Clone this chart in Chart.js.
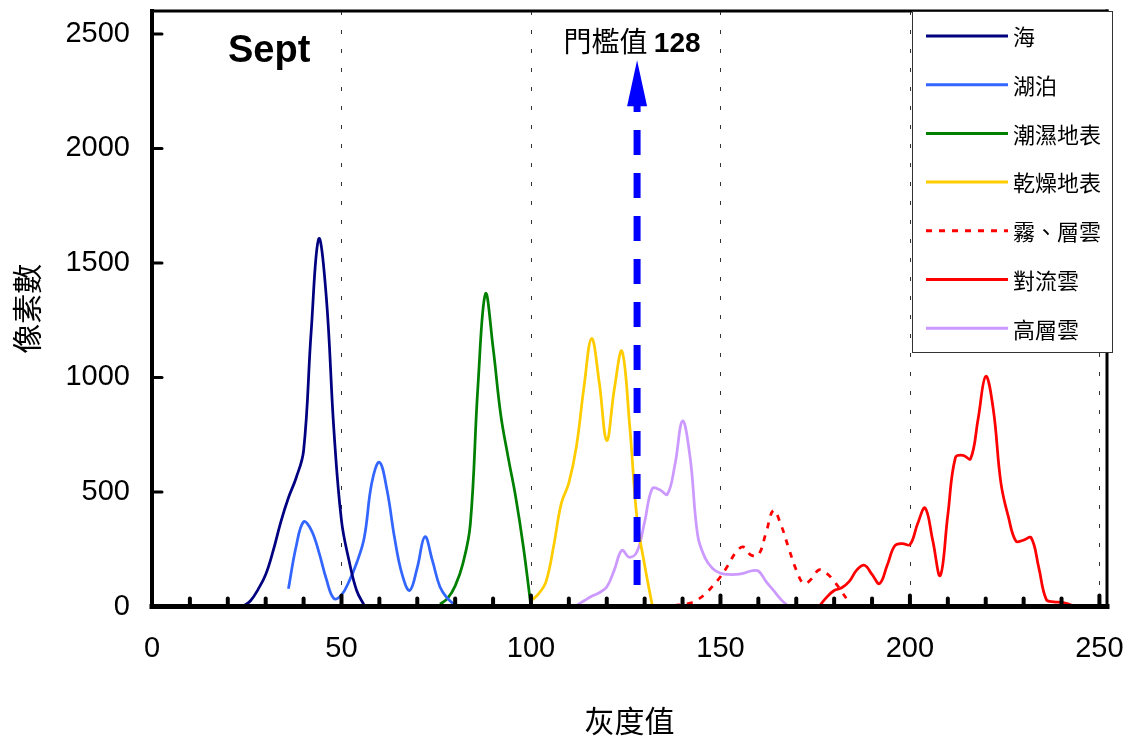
<!DOCTYPE html>
<html>
<head>
<meta charset="utf-8">
<script src="https://cdn.jsdelivr.net/npm/chart.js@4/dist/chart.umd.min.js"></script>
<style>
  html, body { margin: 0; padding: 0; background: #fff; }
  canvas { display: block; }
</style>
</head>
<body>
<canvas id="histogram" width="1130" height="740"></canvas>
<script>
// legend names, in drawing order
const seriesNames = ['海', '湖泊', '潮濕地表', '乾燥地表', '霧、層雲', '對流雲', '高層雲'];

// gray level -> pixel count, one pair of arrays per surface type
const seaGray = [24, 26, 28, 30, 32, 34, 36, 38, 40, 42, 44, 46, 48, 50, 52, 54, 56];
const seaCount = [0, 25, 75, 140, 245, 370, 475, 560, 680, 1200, 1605, 1350, 770, 375, 200, 70, 5];

const lakeGray = [36, 38, 40, 42, 44, 46, 48, 50, 52, 54, 56, 58, 60, 62, 64, 66, 68, 70, 72, 74, 76, 78, 80];
const lakeCount = [77, 260, 370, 335, 240, 120, 35, 50, 110, 190, 300, 540, 630, 510, 300, 140, 70, 170, 305, 200, 85, 35, 5];

const wetGray = [76, 78, 80, 82, 84, 86, 88, 90, 92, 94, 96, 98, 100];
const wetCount = [10, 35, 90, 185, 360, 960, 1365, 1130, 840, 650, 475, 260, 0];

const dryGray = [100, 102, 104, 106, 108, 110, 112, 114, 116, 118, 120, 122, 124, 126, 128, 130, 132];
const dryCount = [25, 55, 110, 265, 450, 540, 700, 960, 1170, 980, 725, 950, 1115, 800, 380, 180, 5];

const fogGray = [124, 128, 132, 136, 138, 140, 142, 144, 146, 148, 150, 152, 154, 156, 158, 160, 162, 164, 166, 168, 170, 172, 174, 176, 178, 180, 182, 184];
const fogCount = [0, 0, 0, 2, 5, 10, 15, 30, 55, 90, 130, 180, 235, 260, 225, 225, 320, 420, 355, 255, 160, 100, 120, 160, 145, 110, 65, 15];

const convGray = [176, 178, 180, 182, 184, 186, 188, 190, 192, 194, 196, 198, 200, 202, 204, 206, 208, 210, 212, 214, 216, 218, 220, 222, 224, 226, 228, 230, 232, 234, 236, 238, 240, 242, 244];
const convCount = [0, 40, 70, 82, 110, 160, 180, 140, 100, 180, 265, 275, 270, 360, 430, 290, 135, 400, 650, 660, 645, 820, 1005, 860, 540, 390, 285, 290, 300, 170, 30, 20, 18, 10, 0];

const altoGray = [112, 114, 116, 118, 120, 122, 124, 126, 128, 130, 132, 134, 136, 138, 140, 142, 144, 146, 148, 150, 152, 154, 156, 158, 160, 162, 164, 166, 168];
const altoCount = [5, 25, 45, 60, 85, 160, 245, 215, 240, 370, 515, 510, 490, 620, 810, 650, 310, 210, 165, 145, 140, 140, 145, 155, 155, 110, 70, 30, 0];

// threshold marker and the count range its arrow spans
const threshold = 128;
const arrowSpan = [94, 2385];

const xTicks = [0, 50, 100, 150, 200, 250];
const yTicks = [0, 500, 1000, 1500, 2000, 2500];

const FONT = "'Liberation Sans', Arial, 'Noto Sans CJK TC', sans-serif";
const CJK = "'Noto Sans CJK TC', 'Liberation Sans', sans-serif";

const colors = ['#000080', '#3366FF', '#008000', '#FFCC00', '#FF0000', '#FF0000', '#CC99FF'];
const dashes = [[], [], [], [], [6, 7], [], []];

const pairs = (gx, cy) => gx.map((g, i) => ({ x: g, y: cy[i] }));
const series = [
  pairs(seaGray, seaCount),
  pairs(lakeGray, lakeCount),
  pairs(wetGray, wetCount),
  pairs(dryGray, dryCount),
  pairs(fogGray, fogCount),
  pairs(convGray, convCount),
  pairs(altoGray, altoCount)
];

const datasets = series.map((data, i) => ({
  label: seriesNames[i],
  data,
  borderColor: colors[i],
  borderDash: dashes[i],
  borderWidth: 2.75,
  pointRadius: 0,
  tension: 0.4,
  fill: false
}));

function stroke(ctx, x1, y1, x2, y2, w) {
  ctx.lineWidth = w;
  ctx.beginPath();
  ctx.moveTo(x1, y1);
  ctx.lineTo(x2, y2);
  ctx.stroke();
}

// frame, tick marks, dotted guides, threshold arrow and boxed legend
const histogramDecor = {
  id: 'histogramDecor',
  beforeDatasetsDraw(chart) {
    const { ctx, chartArea: a, scales: { x } } = chart;
    ctx.save();
    ctx.strokeStyle = '#333';
    ctx.setLineDash([4, 15]);
    xTicks.slice(1).forEach(v => {
      const px = Math.round(x.getPixelForValue(v)) + 0.5;
      stroke(ctx, px, a.top, px, a.bottom, 1);
    });
    ctx.restore();
  },
  afterDatasetsDraw(chart) {
    const { ctx, chartArea: a, scales: { x, y } } = chart;
    ctx.save();
    ctx.strokeStyle = '#000';
    ctx.lineCap = 'square';
    stroke(ctx, a.left, a.top, a.right, a.top, 3);
    stroke(ctx, a.right, a.top, a.right, a.bottom, 3);
    stroke(ctx, a.left, a.top, a.left, a.bottom, 4);
    stroke(ctx, a.left, a.bottom, a.right, a.bottom, 5);

    // minor ticks every 10 gray levels, pointing into the plot
    ctx.lineCap = 'round';
    for (let v = 10; v <= xTicks[xTicks.length - 1]; v += 10) {
      const px = x.getPixelForValue(v);
      stroke(ctx, px, a.bottom, px, a.bottom - (v % 50 ? 8 : 11), 4);
    }
    yTicks.slice(1).forEach(v => {
      const py = y.getPixelForValue(v);
      stroke(ctx, a.left, py, a.left + 10, py, 3);
    });

    // month tag
    ctx.fillStyle = '#000';
    ctx.font = `bold 38px ${FONT}`;
    ctx.textAlign = 'left';
    ctx.textBaseline = 'alphabetic';
    ctx.fillText('Sept', a.left + 76, a.top + 51);

    // threshold arrow
    const tx = x.getPixelForValue(threshold);
    const yBase = y.getPixelForValue(arrowSpan[0]);
    const yTip = y.getPixelForValue(arrowSpan[1]);
    const headH = 46, headW = 10;
    ctx.strokeStyle = ctx.fillStyle = '#0000FF';
    ctx.lineCap = 'butt';
    ctx.setLineDash([25, 18]);
    stroke(ctx, tx, yBase, tx, yTip + headH - 2, 7);
    ctx.setLineDash([]);
    ctx.beginPath();
    ctx.moveTo(tx, yTip);
    ctx.lineTo(tx + headW, yTip + headH);
    ctx.lineTo(tx - headW, yTip + headH);
    ctx.closePath();
    ctx.fill();

    // threshold caption: plain words, bold number
    const word = '門檻值 ';
    const num = String(threshold);
    ctx.fillStyle = '#000';
    ctx.font = `28px ${CJK}`;
    const w1 = ctx.measureText(word).width;
    ctx.font = `bold 28px ${FONT}`;
    const w2 = ctx.measureText(num).width;
    const start = tx - 5 - (w1 + w2) / 2;
    ctx.font = `28px ${CJK}`;
    ctx.fillText(word, start, a.top + 41);
    ctx.font = `bold 28px ${FONT}`;
    ctx.fillText(num, start + w1, a.top + 41);

    // legend box in the upper right corner
    const bx = a.right - 195, by = a.top, bw = 200, bh = 341;
    ctx.fillStyle = '#fff';
    ctx.fillRect(bx, by, bw, bh);
    ctx.strokeStyle = '#333';
    ctx.lineWidth = 1;
    ctx.strokeRect(bx + 0.5, by + 0.5, bw, bh);
    ctx.font = `22px ${CJK}`;
    ctx.textBaseline = 'middle';
    chart.data.datasets.forEach((ds, i) => {
      const ry = by + 25 + i * 48.7;
      ctx.strokeStyle = ds.borderColor;
      ctx.setLineDash(ds.borderDash);
      ctx.lineCap = 'butt';
      stroke(ctx, bx + 14, ry, bx + 96, ry, 3);
      ctx.setLineDash([]);
      ctx.fillStyle = '#000';
      ctx.fillText(ds.label, bx + 101, ry + 1);
    });
    ctx.restore();
  }
};

new Chart(document.getElementById('histogram'), {
  type: 'line',
  data: { datasets },
  options: {
    responsive: false,
    animation: false,
    layout: { padding: { top: 11, right: 23, left: 0, bottom: 0 } },
    plugins: { legend: { display: false }, tooltip: { enabled: false } },
    scales: {
      x: {
        type: 'linear',
        min: 0,
        max: 252,
        grid: { display: false, drawTicks: false },
        border: { display: false },
        afterBuildTicks: s => { s.ticks = xTicks.map(v => ({ value: v })); },
        ticks: { color: '#000', padding: 25, maxRotation: 0, autoSkip: false, callback: v => String(v), font: { family: FONT, size: 29 } },
        title: { display: true, text: '灰度值', color: '#000', font: { family: CJK, size: 30 }, padding: { top: 0, bottom: 1 } },
        afterFit: s => { s.height = 133.5; s.paddingLeft = 0; s.paddingRight = 0; }
      },
      y: {
        min: 0,
        max: 2600,
        grid: { display: false, drawTicks: false },
        border: { display: false },
        afterBuildTicks: s => { s.ticks = yTicks.map(v => ({ value: v })); },
        ticks: { color: '#000', padding: 22, callback: v => String(v), font: { family: FONT, size: 29 } },
        title: { display: true, text: '像素數', color: '#000', font: { family: CJK, size: 30 }, padding: { top: 9, bottom: 0 } },
        afterFit: s => { s.width = 152; s.paddingTop = 0; s.paddingBottom = 0; }
      }
    }
  },
  plugins: [histogramDecor]
});
</script>
</body>
</html>
